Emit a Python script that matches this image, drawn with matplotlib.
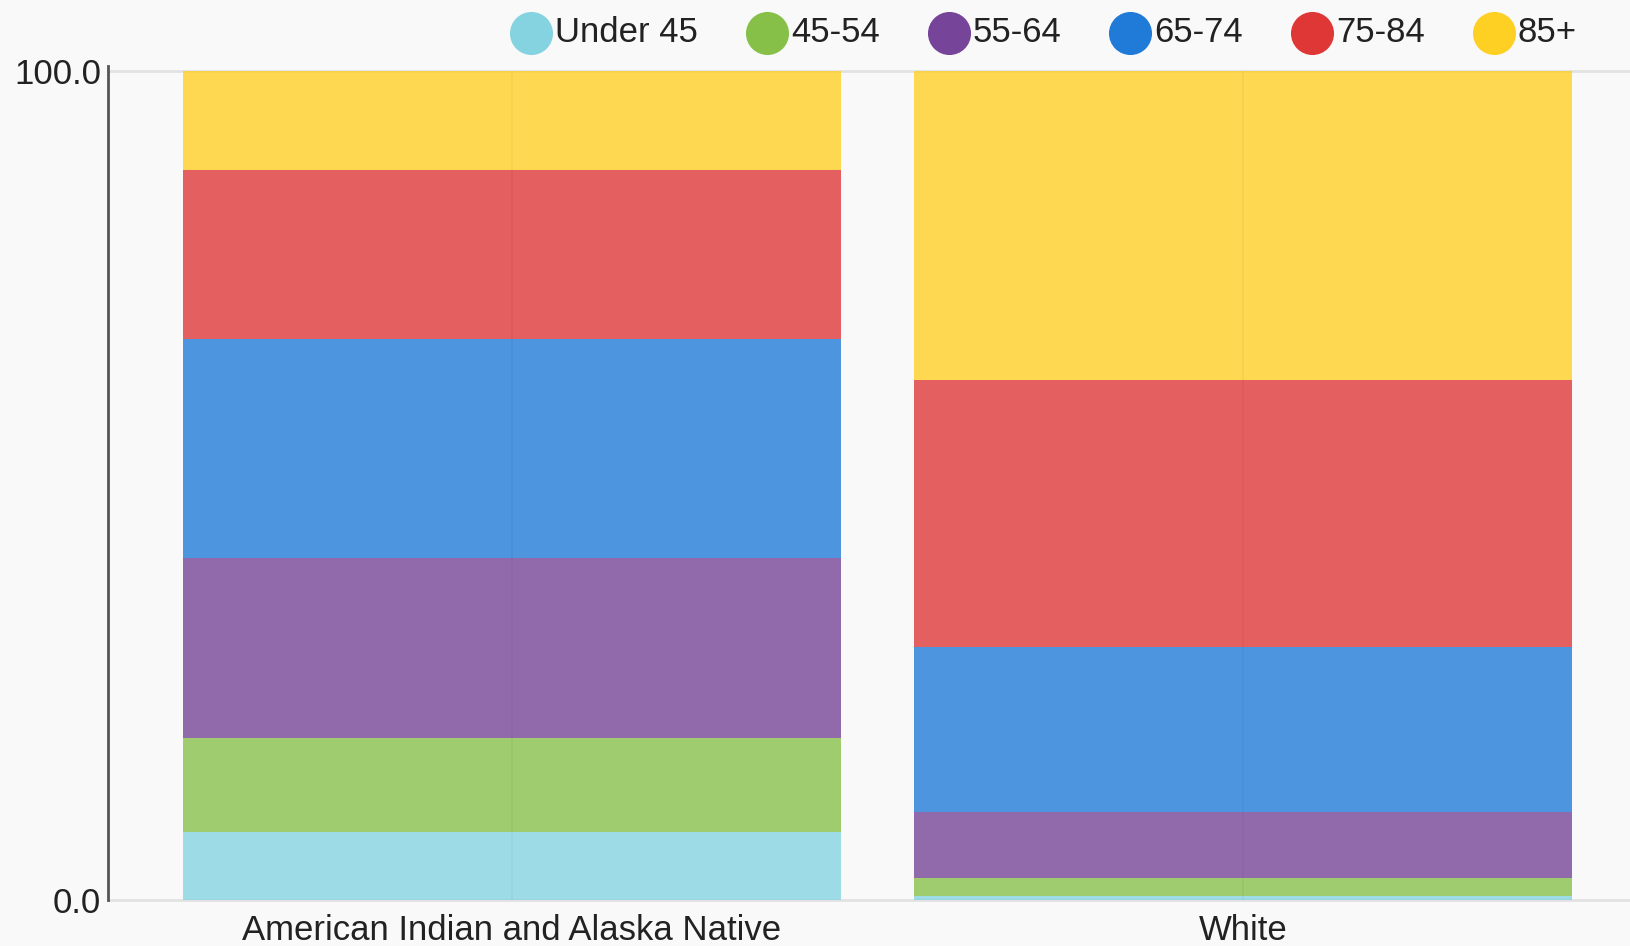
import numpy as np
import matplotlib
matplotlib.use("Agg")
import matplotlib.pyplot as plt
from matplotlib.lines import Line2D

categories = ["American Indian and Alaska Native", "White"]
age_groups = ["Under 45", "45-54", "55-64", "65-74", "75-84", "85+"]
under_45 = [8.2, 0.5]
age_45_54 = [11.3, 2.2]
age_55_64 = [21.7, 7.9]
age_65_74 = [26.5, 19.9]
age_75_84 = [20.4, 32.2]
age_85_plus = [11.9, 37.3]
colors = ["#7fd1e0", "#80bd3f", "#6f3a93", "#1374d6", "#de2b2b", "#ffce18"]

series = [under_45, age_45_54, age_55_64, age_65_74, age_75_84, age_85_plus]

plt.rcParams["font.family"] = ["Liberation Sans", "DejaVu Sans"]
bg = "#f9f9f9"

fig = plt.figure(figsize=(16.31, 9.46), dpi=100, facecolor=bg)
ax = fig.add_axes([0.0662, 0.0486, 0.9338, 0.8763], facecolor=bg)

x = np.arange(len(categories))
bottom = np.zeros(len(categories))
for vals, col in zip(series, colors):
    ax.bar(x, vals, width=0.9, bottom=bottom, color=col, alpha=0.75,
           linewidth=0, zorder=2)
    bottom += np.array(vals)

# faint centre lines over the bars
for xi in x:
    ax.axvline(xi, color="black", alpha=0.035, lw=1.2, zorder=3)

ax.set_xlim(-0.5527, 1.5308)
ax.set_ylim(0, 100)
ax.set_yticks([0, 100])
ax.set_yticklabels(["0.0", "100.0"])
ax.set_xticks(x)
ax.set_xticklabels(categories)
ax.tick_params(axis="y", length=0, pad=5, labelsize=25, labelcolor="#222222")
ax.tick_params(axis="x", length=0, pad=10, labelsize=25, labelcolor="#222222")

ax.axhline(100, color="#e2e2e2", lw=2, zorder=1, clip_on=False)
ax.axhline(0, color="#e2e2e2", lw=2, zorder=1, clip_on=False)
for s in ["top", "right", "bottom"]:
    ax.spines[s].set_visible(False)
ax.spines["left"].set_color("#555555")
ax.spines["left"].set_linewidth(2)
ax.spines["left"].set_bounds(0, 100.6)

# legend drawn item by item across the top
fig.canvas.draw()
renderer = fig.canvas.get_renderer()
W, H = fig.bbox.width, fig.bbox.height
xpos = 515.0
ypix = 33.0
r = 16.0
for lab, col in zip(age_groups, colors):
    fig.add_artist(Line2D([(xpos + r) / W], [1 - ypix / H], marker="o",
                          markersize=31, markerfacecolor=col, markeredgewidth=0,
                          color=col, alpha=0.95, transform=fig.transFigure))
    t = fig.text((xpos + 2 * r + 8) / W, 1 - ypix / H, lab, fontsize=25,
                 color="#222222", va="center", ha="left")
    tw = t.get_window_extent(renderer).width
    xpos = xpos + 2 * r + 8 + tw + 53

fig.savefig("out.png", dpi=100, facecolor=bg)
